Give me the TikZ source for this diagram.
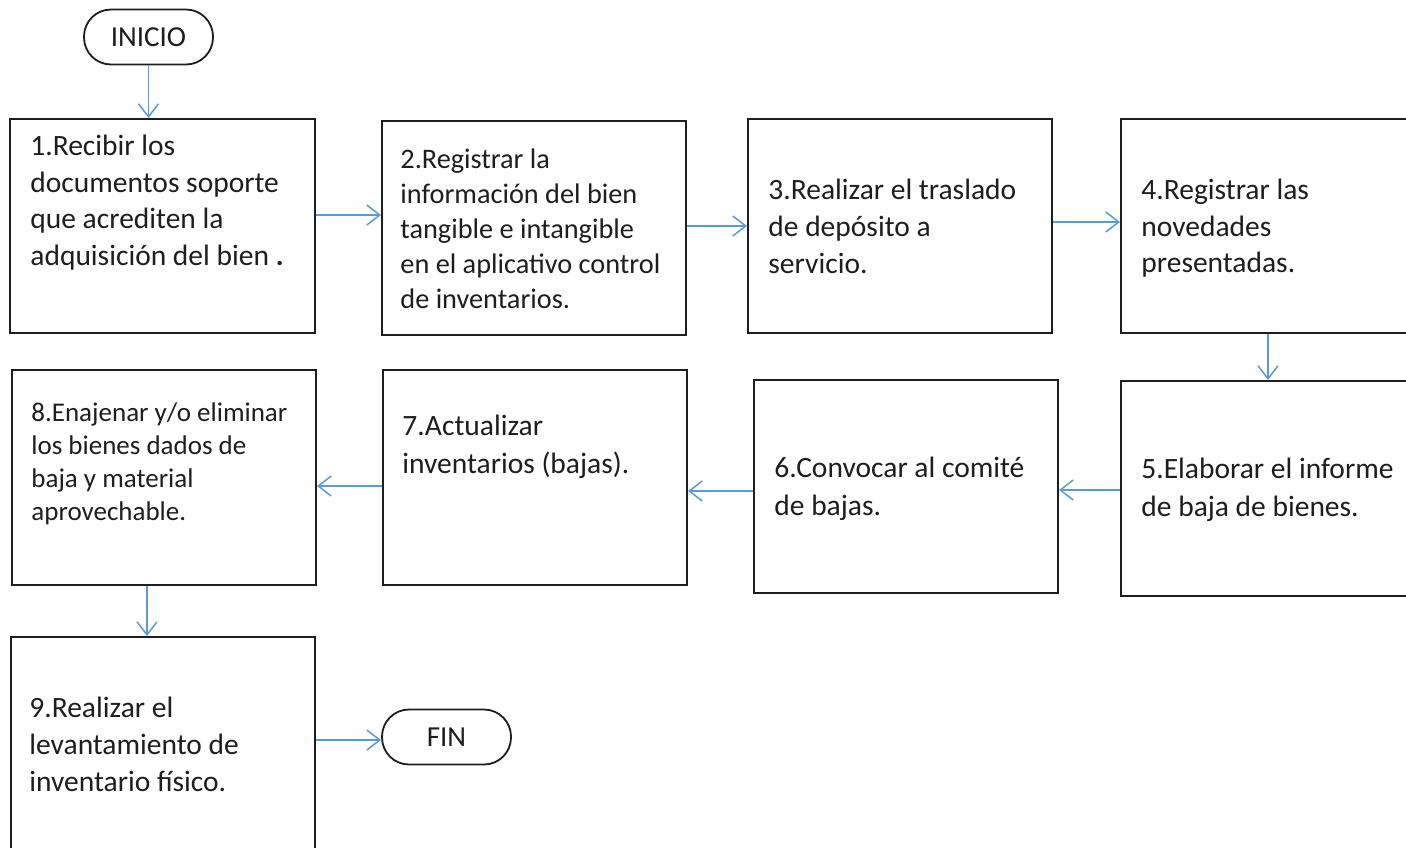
\documentclass[tikz,border=0pt]{standalone}
\usepackage{fontspec}
\setmainfont{Carlito}
\usetikzlibrary{arrows.meta}
\definecolor{arrblue}{HTML}{5B9BD5}
\definecolor{ink}{HTML}{1E1E1E}
\newcommand\tstrut{\rule{0pt}{0.8em}}
\tikzset{
  box/.style={draw=ink, line width=1pt, inner sep=0pt, fill=white},
  term/.style={draw=ink, line width=0.9pt, rounded corners=13.5pt, inner sep=0pt,
    minimum width=64.5pt, minimum height=27.5pt, font=\fontsize{14.5pt}{17pt}\selectfont, text=ink},
  txt/.style={anchor=north west, inner sep=0pt, align=left, text=ink},
  arr/.style={draw=arrblue, line width=0.75pt, -{Straight Barb[length=6.5pt,width=10pt,line width=0.75pt]}}
}
\begin{document}
\begin{tikzpicture}[x=0.5pt,y=-0.5pt]
\useasboundingbox (0,0) rectangle (1406,847);
\fill[white] (0,0) rectangle (1406,847);
\clip (0,0) rectangle (1406,847);
% terminals
\node[term] (ini) at (148.5,37) {INICIO};
\node[term] (fin) at (446.5,737) {FIN};
% boxes
\node[box, minimum width=152.5pt, minimum height=107pt] (b1) at (162.5,226) {};
\node[box, minimum width=152pt, minimum height=107pt] (b2) at (534,228) {};
\node[box, minimum width=152pt, minimum height=107pt] (b3) at (900,226) {};
\node[box, minimum width=152pt, minimum height=107pt] (b4) at (1273,226) {};
\node[box, minimum width=152pt, minimum height=107.5pt] (b5) at (1273,488.5) {};
\node[box, minimum width=152pt, minimum height=106.5pt] (b6) at (906,486.5) {};
\node[box, minimum width=152pt, minimum height=107.5pt] (b7) at (535,477.5) {};
\node[box, minimum width=152pt, minimum height=107.5pt] (b8) at (164,477.5) {};
\node[box, minimum width=152pt, minimum height=107pt] (b9) at (163,744) {};
% texts
\node[txt, font=\fontsize{14.75pt}{18.35pt}\selectfont] (t1) at (30,131.4)
  {\tstrut 1.Recibir los\\documentos soporte\\que acrediten la\\adquisición del bien \textbf{.}};
\node[txt, font=\fontsize{14.15pt}{17.5pt}\selectfont] (t2) at (400,145.4)
  {\tstrut 2.Registrar la\\información del bien\\tangible e intangible\\en el aplicativo control\\de inventarios.};
\node[txt, font=\fontsize{14.75pt}{18.5pt}\selectfont] (t3) at (768,175.4)
  {\tstrut 3.Realizar el traslado\\de depósito a\\servicio.};
\node[txt, font=\fontsize{14.75pt}{18.35pt}\selectfont] (t4) at (1141,175.4)
  {\tstrut 4.Registrar las\\novedades\\presentadas.};
\node[txt, font=\fontsize{14.75pt}{19pt}\selectfont] (t5) at (1141,454.4)
  {\tstrut 5.Elaborar el informe\\de baja de bienes.};
\node[txt, font=\fontsize{14.75pt}{19pt}\selectfont] (t6) at (774,453.4)
  {\tstrut 6.Convocar al comité\\de bajas.};
\node[txt, font=\fontsize{14.75pt}{19pt}\selectfont] (t7) at (402,411.4)
  {\tstrut 7.Actualizar\\inventarios (bajas).};
\node[txt, font=\fontsize{13.5pt}{16.5pt}\selectfont] (t8) at (31,399.4)
  {\tstrut 8.Enajenar y/o eliminar\\los bienes dados de\\baja y material\\aprovechable.};
\node[txt, font=\fontsize{14.75pt}{18.5pt}\selectfont] (t9) at (29,693.4)
  {\tstrut 9.Realizar el\\levantamiento de\\inventario físico.};
% connectors
\draw[arr] (ini.south) -- (ini.south |- b1.north);
\draw[arr] ([yshift=5.5pt]b1.east) -- ([yshift=5.5pt]b1.east -| b2.west);
\draw[arr] ([yshift=1pt]b2.east) -- ([yshift=1pt]b2.east -| b3.west);
\draw[arr] ([yshift=2pt]b3.east) -- ([yshift=2pt]b3.east -| b4.west);
\draw[arr] ([xshift=-2.5pt]b4.south) -- ([xshift=-2.5pt]b4.south |- b5.north);
\draw[arr] ([yshift=-0.75pt]b5.west) -- ([yshift=-0.75pt]b5.west -| b6.east);
\draw[arr] ([yshift=-2.25pt]b6.west) -- ([yshift=-2.25pt]b6.west -| b7.east);
\draw[arr] ([yshift=-4.25pt]b7.west) -- ([yshift=-4.25pt]b7.west -| b8.east);
\draw[arr] ([xshift=-8.5pt]b8.south) -- ([xshift=-8.5pt]b8.south |- b9.north);
\draw[arr] ([yshift=2pt]b9.east) -- ([yshift=2pt]b9.east -| fin.west);
\end{tikzpicture}
\end{document}
